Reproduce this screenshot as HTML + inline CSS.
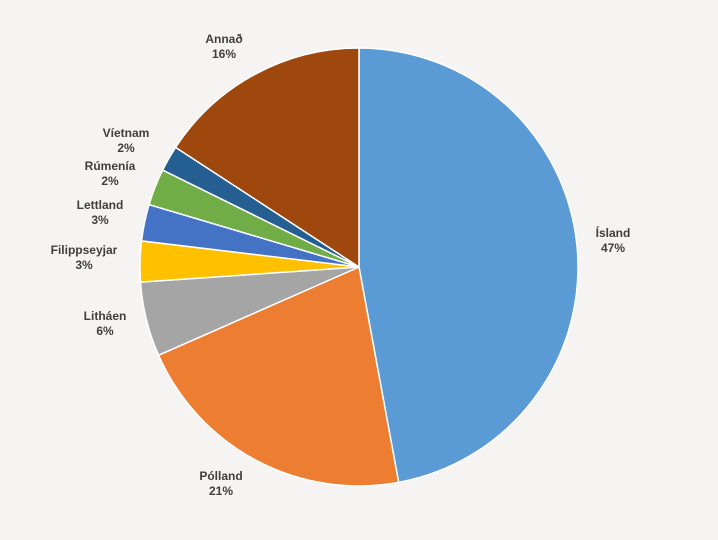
<!DOCTYPE html>
<html><head><meta charset="utf-8"><style>
html,body{margin:0;padding:0;background:#f5f4f3;}
svg text{font-family:"Liberation Sans",sans-serif;font-weight:bold;font-size:12px;fill:#404040;}
</style></head><body>
<svg id="chart" width="718" height="535" viewBox="0 0 718 535">
<rect width="718" height="535" fill="#f5f4f3"/>
<g id="slices"></g><g id="labels"></g>
</svg>
<script>
const categories=["Ísland","Pólland","Litháen","Filippseyjar","Lettland","Rúmenía","Víetnam","Annað"];
const values=[47.1,21.3,5.5,3.0,2.7,2.7,1.9,15.8];
const valueLabels=["47%","21%","6%","3%","3%","2%","2%","16%"];
const colors=["#5b9bd5","#ed7d31","#a5a5a5","#ffc000","#4472c4","#70ad47","#255e91","#9e480e"];
const labelPos=[[613,237],[221,480],[105,320],[84,254],[100,209],[110,170],[126,137],[224,43]];
const cx=359,cy=267,r=219;
const total=values.reduce((a,b)=>a+b,0);
const ns="http://www.w3.org/2000/svg";
const gs=document.getElementById('slices'),gl=document.getElementById('labels');
let a0=0;
values.forEach((v,i)=>{
  const a1=a0+v/total*2*Math.PI;
  const x0=cx+r*Math.sin(a0),y0=cy-r*Math.cos(a0),x1=cx+r*Math.sin(a1),y1=cy-r*Math.cos(a1);
  const p=document.createElementNS(ns,'path');
  p.setAttribute('d',`M${cx},${cy}L${x0},${y0}A${r},${r} 0 ${a1-a0>Math.PI?1:0} 1 ${x1},${y1}Z`);
  p.setAttribute('fill',colors[i]);p.setAttribute('stroke','#ffffff');p.setAttribute('stroke-width','1.5');
  
  
  gs.appendChild(p);
  const t=document.createElementNS(ns,'text');
  t.setAttribute('x',labelPos[i][0]);t.setAttribute('y',labelPos[i][1]);t.setAttribute('text-anchor','middle');
  
  
  const s1=document.createElementNS(ns,'tspan');s1.setAttribute('x',labelPos[i][0]);s1.textContent=categories[i];
  const s2=document.createElementNS(ns,'tspan');s2.setAttribute('x',labelPos[i][0]);s2.setAttribute('dy','15');s2.textContent=valueLabels[i];
  t.appendChild(s1);t.appendChild(s2);gl.appendChild(t);
  a0=a1;
});
</script>
</body></html>
